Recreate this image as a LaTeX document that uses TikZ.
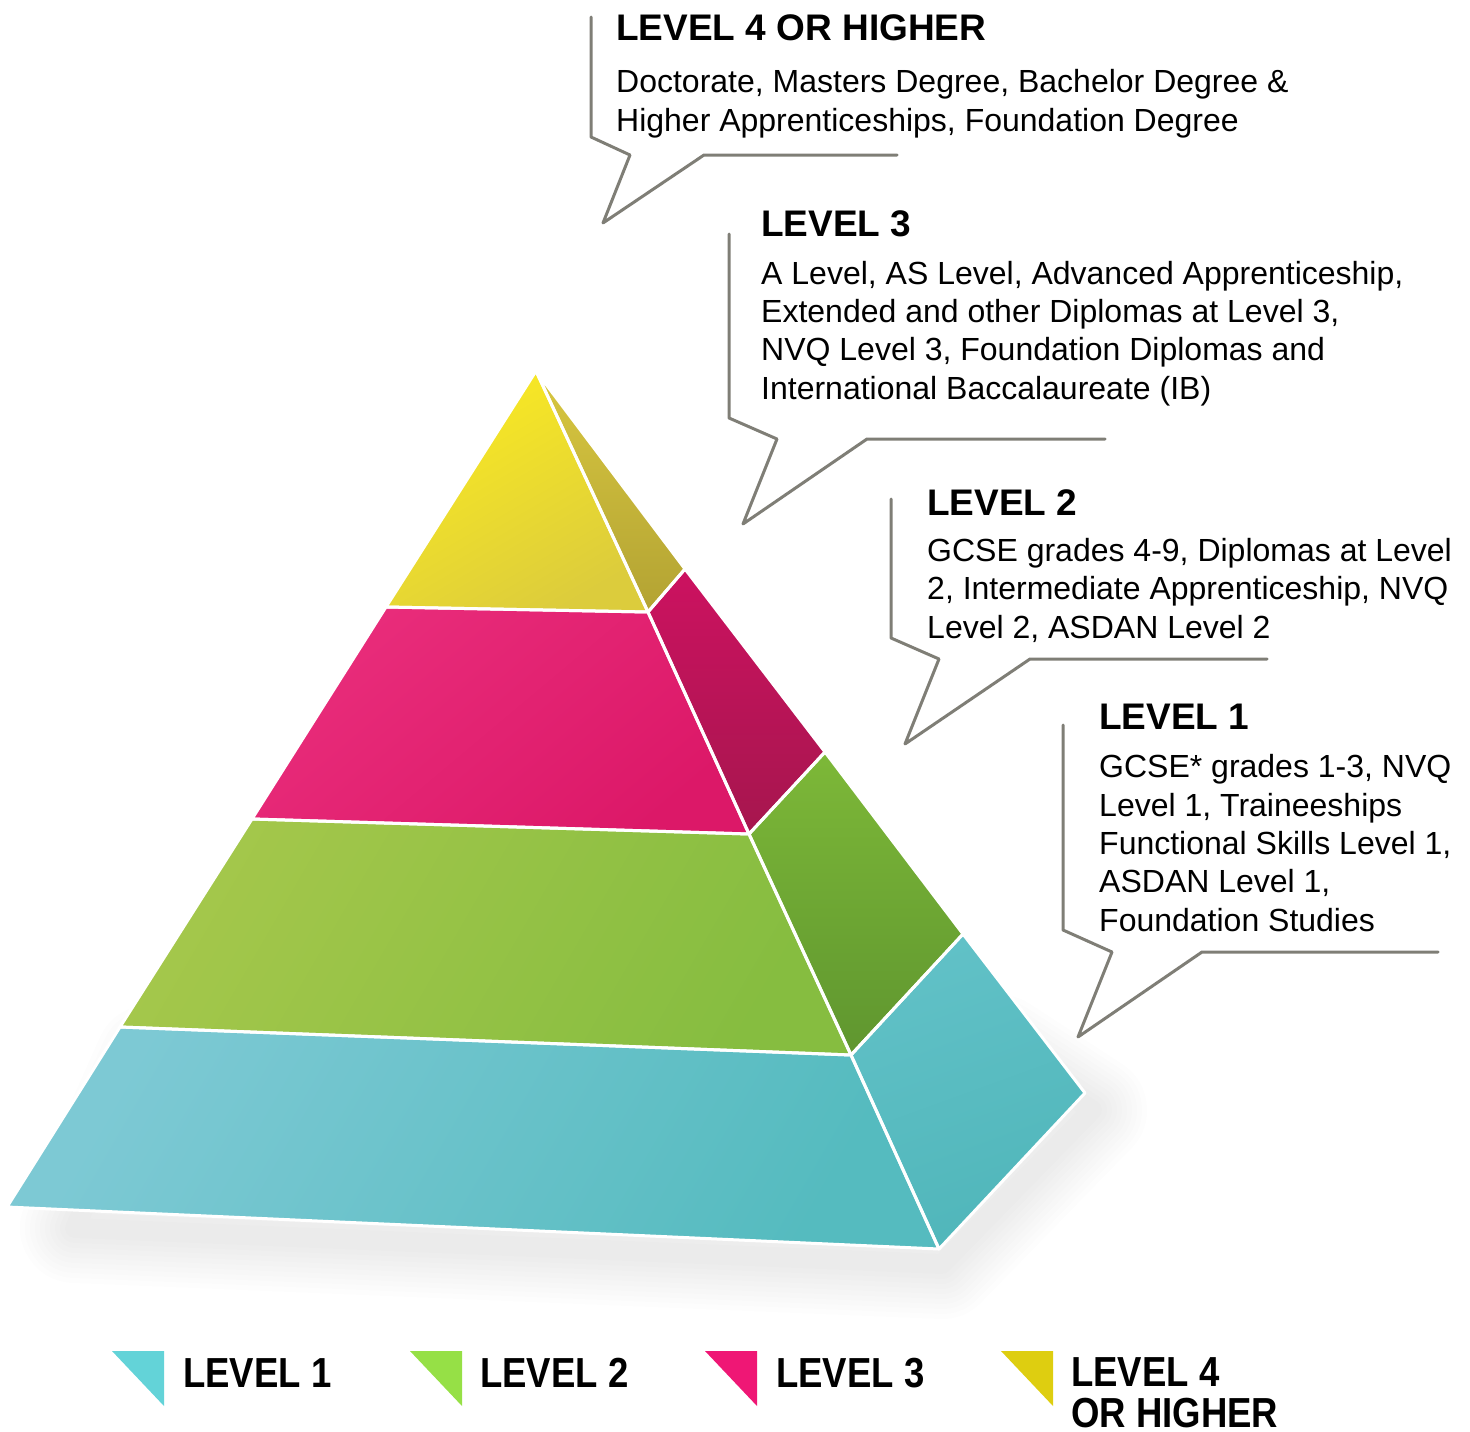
\documentclass[tikz,border=0pt]{standalone}
\usepackage{fontspec}
\setmainfont{Liberation Sans}
\usepackage{graphicx}
\definecolor{calloutgray}{HTML}{7F7E76}
\definecolor{yelA}{HTML}{FAEA22}
\definecolor{yelB}{HTML}{DCCC3C}
\definecolor{yelSA}{HTML}{D8C740}
\definecolor{yelSB}{HTML}{B3A333}
\definecolor{magA}{HTML}{E92D7B}
\definecolor{magB}{HTML}{DC1868}
\definecolor{magSA}{HTML}{CC1260}
\definecolor{magSB}{HTML}{A6164E}
\definecolor{grnA}{HTML}{A4C74B}
\definecolor{grnB}{HTML}{86BD40}
\definecolor{grnSA}{HTML}{7DB838}
\definecolor{grnSB}{HTML}{5F962F}
\definecolor{cyaA}{HTML}{7DC9D4}
\definecolor{cyaB}{HTML}{55BBBF}
\definecolor{cyaSA}{HTML}{61C1C7}
\definecolor{cyaSB}{HTML}{50B6BA}
\definecolor{legC}{HTML}{63D3D8}
\definecolor{legG}{HTML}{96E046}
\definecolor{legM}{HTML}{EF1775}
\definecolor{legY}{HTML}{DECE10}
\begin{document}
\begin{tikzpicture}[x=1pt,y=-1pt,
  callout/.style={draw=calloutgray, line width=3pt, line join=round, line cap=round},
  titletext/.style={anchor=base west, inner sep=0pt, font=\fontsize{37}{44}\selectfont\bfseries},
  bodytext/.style={anchor=base west, inner sep=0pt, align=left, font=\fontsize{32}{38.3}\selectfont},
  legendtext/.style={anchor=base west, inner sep=0pt, align=left, font=\fontsize{42}{41}\selectfont\bfseries},
  sepline/.style={draw=white, line width=3pt, line join=round},
  legtri/.style={fill=#1, draw=none}
]
\useasboundingbox (0,0) rectangle (1470,1432);

% ---- pyramid coordinates
\coordinate (A)  at (536,371);
\coordinate (YL) at (386,607);
\coordinate (YR) at (648,612);
\coordinate (YS) at (685,569);
\coordinate (ML) at (252,819);
\coordinate (MR) at (749,834);
\coordinate (MS) at (825,752);
\coordinate (GL) at (120,1027);
\coordinate (GR) at (851,1055);
\coordinate (GS) at (963,934);
\coordinate (CL) at (7,1207);
\coordinate (CR) at (939,1249);
\coordinate (CS) at (1085,1093);

% ---- soft shadow (blurred strokes)
\foreach \w in {110,100,90,80,70,60,50,40,30,20}{
  \draw[black, opacity=0.009, line width=\w pt, line join=round]
    (75,1228) -- (942,1264) -- (1092,1110) -- (1000,1050) -- (150,1060) -- cycle;
}

% ---- faces
\shade[top color=cyaA, bottom color=cyaB, shading angle=60] (GL) -- (GR) -- (CR) -- (CL) -- cycle;
\shade[top color=cyaSA, bottom color=cyaSB, shading angle=20] (GR) -- (GS) -- (CS) -- (CR) -- cycle;
\shade[top color=grnA, bottom color=grnB, shading angle=60] (ML) -- (MR) -- (GR) -- (GL) -- cycle;
\shade[top color=grnSA, bottom color=grnSB] (MR) -- (MS) -- (GS) -- (GR) -- cycle;
\shade[top color=magA, bottom color=magB, shading angle=40] (YL) -- (YR) -- (MR) -- (ML) -- cycle;
\shade[top color=magSA, bottom color=magSB] (YR) -- (YS) -- (MS) -- (MR) -- cycle;
\shade[top color=yelA, bottom color=yelB, shading angle=30] (A) -- (YR) -- (YL) -- cycle;
\shade[top color=yelSA, bottom color=yelSB] (A) -- (YS) -- (YR) -- cycle;

% ---- white separators
\draw[sepline] (GL) -- (GR) -- (CR) -- (CL) -- cycle;
\draw[sepline] (GR) -- (GS) -- (CS) -- (CR) -- cycle;
\draw[sepline] (ML) -- (MR) -- (GR) -- (GL) -- cycle;
\draw[sepline] (MR) -- (MS) -- (GS) -- (GR) -- cycle;
\draw[sepline] (YL) -- (YR) -- (MR) -- (ML) -- cycle;
\draw[sepline] (YR) -- (YS) -- (MS) -- (MR) -- cycle;
\draw[sepline] (A) -- (YR) -- (YL) -- cycle;
\draw[sepline] (A) -- (YS) -- (YR) -- cycle;

% ---- callouts
\draw[callout] (591,17) -- (591,137) -- (630,155) -- (603,223) -- (704,155) -- (897,155);
\draw[callout] (729,234) -- (729,418) -- (777,439) -- (743,524) -- (867,439) -- (1105,439);
\draw[callout] (891,499) -- (891,638) -- (939,659) -- (905,744) -- (1030,659) -- (1267,659);
\draw[callout] (1063,725) -- (1063,930) -- (1112,952) -- (1078,1037) -- (1202,952) -- (1438,952);

% ---- callout texts (base anchor = baseline of last line)
\node[titletext] (t4) at (616,40) {LEVEL 4 OR HIGHER};
\node[bodytext]  (b4) at (616,131) {Doctorate, Masters Degree, Bachelor Degree \&\\Higher Apprenticeships, Foundation Degree};
\node[titletext] (t3) at (761,236) {LEVEL 3};
\node[bodytext]  (b3) at (761,399) {A Level, AS Level, Advanced Apprenticeship,\\Extended and other Diplomas at Level 3,\\NVQ Level 3, Foundation Diplomas and\\International Baccalaureate (IB)};
\node[titletext] (t2) at (927,515) {LEVEL 2};
\node[bodytext]  (b2) at (927,638) {GCSE grades 4-9, Diplomas at Level\\2, Intermediate Apprenticeship, NVQ\\Level 2, ASDAN Level 2};
\node[titletext] (t1) at (1099,729) {LEVEL 1};
\node[bodytext]  (b1) at (1099,931) {GCSE* grades 1-3, NVQ\\Level 1, Traineeships\\Functional Skills Level 1,\\ASDAN Level 1,\\Foundation Studies};

% ---- legend
\fill[legtri=legC] (112,1351) -- (164,1351) -- (164,1406) -- cycle;
\fill[legtri=legG] (410,1351) -- (462,1351) -- (462,1406) -- cycle;
\fill[legtri=legM] (705,1351) -- (757,1351) -- (757,1406) -- cycle;
\fill[legtri=legY] (1001,1351) -- (1053,1351) -- (1053,1406) -- cycle;
\node[legendtext] (l1) at (183,1387) {\scalebox{0.87}[1]{LEVEL 1}};
\node[legendtext] (l2) at (480,1387) {\scalebox{0.87}[1]{LEVEL 2}};
\node[legendtext] (l3) at (776,1387) {\scalebox{0.87}[1]{LEVEL 3}};
\node[legendtext] (l4) at (1071,1427) {\scalebox{0.87}[1]{LEVEL 4}\\\scalebox{0.87}[1]{OR HIGHER}};
\end{tikzpicture}
\end{document}
